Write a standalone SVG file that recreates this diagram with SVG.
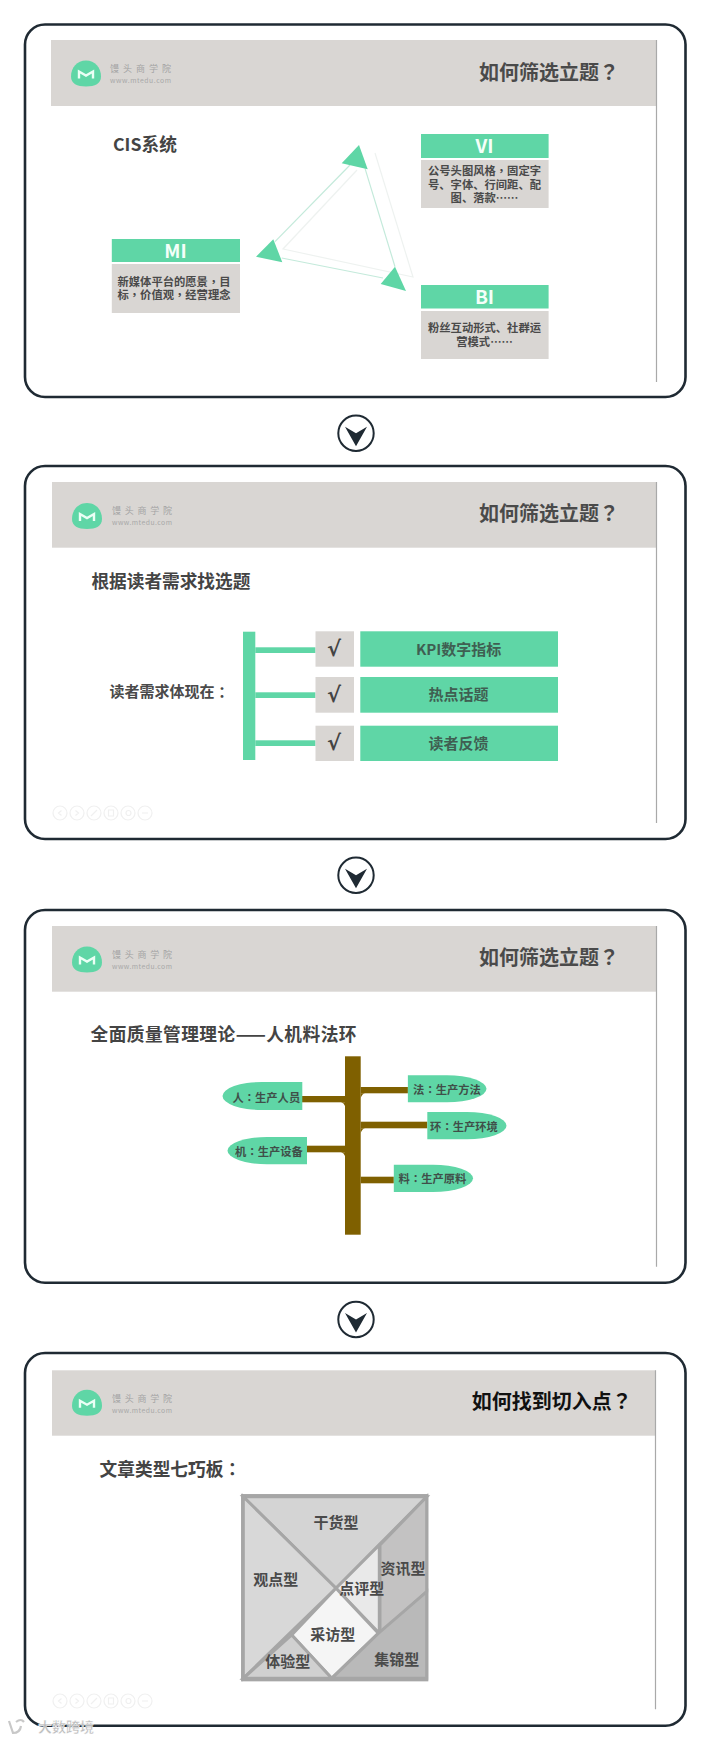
<svg xmlns="http://www.w3.org/2000/svg" width="710" height="1741" viewBox="0 0 710 1741">
<style>
text{font-family:"Noto Sans CJK SC","Liberation Sans",sans-serif;dominant-baseline:central}
tspan.p{font-family:"Noto Sans CJK TC","Noto Sans CJK SC",sans-serif}
.frame{fill:#fff;stroke:#1f2a33;stroke-width:2.6}
.hdr{fill:#d9d6d3}
.edge{stroke:#a9a9a9;stroke-width:1.2;fill:none}
.title{font-size:20px;font-weight:700;fill:#4a4a4a}
.head{font-size:17.7px;font-weight:700;fill:#444}
.brand{font-size:9px;fill:#a3a3a3}
.url{font-size:6.8px;fill:#a8a8a8}
.g{fill:#5fd6a6}
.b{fill:#d9d6d3}
.cap{font-size:19px;font-weight:700;fill:#f4fff9;text-anchor:middle}
.body{font-size:11.3px;font-weight:700;fill:#4a4a4a;text-anchor:middle}
.row{font-size:15px;font-weight:700;fill:#3f5f52;text-anchor:middle}
.chk{font-family:"DejaVu Sans",sans-serif;font-size:21px;font-weight:700;fill:#444;text-anchor:middle}
.lbl{font-size:11.3px;font-weight:700;fill:#3f4f49;text-anchor:middle}
.br{fill:#7f6000}
.tan{stroke:#a6a6a6;stroke-width:3;stroke-linejoin:miter}
.tl{font-size:15px;font-weight:700;fill:#4a4a4a;text-anchor:middle}
.ic{fill:none;stroke:#f0f0f0;stroke-width:1.2}
</style>
<defs>
<g id="logo">
<path class="g" d="M0-13C9-13 15-6 15 3C15 10 9 13 0 13C-9 13-15 10-15 3C-15-6-9-13 0-13Z"/>
<path d="M-7 5V-2L0 2L7-2V5" fill="none" stroke="#eafff5" stroke-width="2.4"/>
</g>
<g id="arrow">
<circle r="17.7" fill="#fff" stroke="#1f2a33" stroke-width="2"/>
<path d="M-11-6.5L0 0L11-6.5L0 13Z" fill="#1f2a33"/>
</g>
<g id="tools">
<g class="ic">
<circle cx="0" r="7"/><circle cx="17" r="7"/><circle cx="34" r="7"/><circle cx="51" r="7"/><circle cx="68" r="7"/><circle cx="85" r="7"/>
<path d="M1.500-2.500L-1.500 0L1.500 2.500M15.500-2.500L18.500 0L15.500 2.500M31 3L37-3M48.500-3H53.500V3H48.500ZM66 0A2.500 2.500 0 1 0 71 0A2.500 2.500 0 1 0 66 0M82 0H88"/>
</g>
</g>
</defs>
<rect width="710" height="1741" fill="#fff"/>

<g id="panel-1">
<rect class="frame" x="25" y="24.500" width="660.500" height="372.500" rx="20"/>
<rect class="hdr" x="51" y="40" width="605.500" height="66"/>
<path class="edge" d="M656.500 40V382"/>
<use href="#logo" x="86" y="73.500"/>
<text class="brand" x="110" y="68.500" textLength="61">馒头商学院</text>
<text class="url" x="110" y="80" textLength="61">www.mtedu.com</text>
<text class="title" x="479" y="71">如何筛选立题<tspan class="p">？</tspan></text>
<text class="head" x="113" y="143">CIS系统</text>
</g>
<g id="panel-2">
<rect class="frame" x="25" y="466" width="660.500" height="373" rx="20"/>
<rect class="hdr" x="52" y="482" width="604.500" height="65.700"/>
<path class="edge" d="M656.500 482V823"/>
<use href="#logo" x="87" y="516"/>
<text class="brand" x="112" y="510.500" textLength="60">馒头商学院</text>
<text class="url" x="112" y="522" textLength="60">www.mtedu.com</text>
<text class="title" x="479" y="512">如何筛选立题<tspan class="p">？</tspan></text>
<text class="head" x="91.400" y="579.500" textLength="159">根据读者需求找选题</text>
<text x="109.500" y="690.500" font-size="15" font-weight="700" fill="#4a4a4a">读者需求体现在<tspan class="p">：</tspan></text>
<use href="#tools" x="60" y="813"/>
</g>
<g id="panel-3">
<rect class="frame" x="25" y="910" width="660.500" height="372.700" rx="20"/>
<rect class="hdr" x="52" y="926" width="604.500" height="65.700"/>
<path class="edge" d="M656.500 926V1266.700"/>
<use href="#logo" x="87" y="959.500"/>
<text class="brand" x="112" y="954.500" textLength="60">馒头商学院</text>
<text class="url" x="112" y="966" textLength="60">www.mtedu.com</text>
<text class="title" x="479" y="956">如何筛选立题<tspan class="p">？</tspan></text>
<text class="head" x="90.500" y="1033" textLength="266">全面质量管理理论——人机料法环</text>
</g>
<g id="panel-4">
<rect class="frame" x="25" y="1353" width="660.500" height="372.700" rx="20"/>
<rect class="hdr" x="52" y="1370.300" width="603.500" height="65.400"/>
<path class="edge" d="M655.500 1370.300V1709.300"/>
<use href="#logo" x="87" y="1402.700"/>
<text class="brand" x="112" y="1398" textLength="60">馒头商学院</text>
<text class="url" x="112" y="1409.500" textLength="60">www.mtedu.com</text>
<text class="title" x="471.700" y="1400.300" style="fill:#111">如何找到切入点<tspan class="p">？</tspan></text>
<text class="head" x="99.600" y="1467.500">文章类型七巧板<tspan class="p">：</tspan></text>
<use href="#tools" x="60" y="1701"/>
</g>

<g id="connectors">
<g fill="none" stroke="#eef2f0" stroke-width="1.2">
<path d="M375 153L413 277L283 249L357 170"/>
</g>
<g fill="none" stroke="#c4eadb" stroke-width="1.2">
<path d="M350 165L275 241.700M365 168.300L395 266.700M281.700 258L383 278"/>
</g>
<g class="g">
<path d="M359 145L341.700 163.300L367.700 169.300Z"/>
<path d="M273.300 239.300L256 256.700L282.300 262.300Z"/>
<path d="M395 266.700L380.700 284L406 291Z"/>
</g>
<g class="g">
<rect x="243" y="631.700" width="12.300" height="128.300"/>
<rect x="255.300" y="647.300" width="60.200" height="5.700"/>
<rect x="255.300" y="692.300" width="60.200" height="5.700"/>
<rect x="255.300" y="740.300" width="60.200" height="5.700"/>
</g>
<g class="br">
<rect x="345" y="1056.300" width="15.700" height="178.400"/>
<rect x="302" y="1096" width="43" height="6.300"/>
<rect x="307" y="1145.700" width="38" height="6.600"/>
<rect x="360.700" y="1087" width="47.200" height="6.300"/>
<rect x="360.700" y="1121.700" width="66.600" height="6.600"/>
<rect x="360.700" y="1176.700" width="33.100" height="6.600"/>
<path d="M360.700 1093.300H365Q362 1094 360.700 1098ZM360.700 1128.300H365Q362 1129 360.700 1133ZM345 1102.300H341Q344 1103 345 1106ZM345 1152.300H341Q344 1153 345 1156Z"/>
</g>
</g>

<g id="node-vi">
<rect class="g" x="421" y="134" width="127.600" height="24"/>
<rect class="b" x="421" y="160" width="127.600" height="48"/>
<text class="cap" x="484.500" y="144.500">VI</text>
<text class="body" x="484.500" y="170.300">公号头图风格<tspan class="p">，</tspan>固定字</text>
<text class="body" x="484.500" y="183.700">号、字体、行间距、配</text>
<text class="body" x="484.500" y="197.300">图、落款……</text>
</g>
<g id="node-mi">
<rect class="g" x="111.800" y="239" width="128.200" height="23"/>
<rect class="b" x="111.800" y="264" width="128.200" height="49"/>
<text class="cap" x="175.500" y="249">MI</text>
<text class="body" x="174" y="280.700">新媒体平台的愿景<tspan class="p">，</tspan>目</text>
<text class="body" x="174" y="294">标<tspan class="p">，</tspan>价值观<tspan class="p">，</tspan>经营理念</text>
</g>
<g id="node-bi">
<rect class="g" x="421" y="285" width="127.600" height="23.500"/>
<rect class="b" x="421" y="311" width="127.600" height="48"/>
<text class="cap" x="484.500" y="295.500">BI</text>
<text class="body" x="484.500" y="327">粉丝互动形式、社群运</text>
<text class="body" x="484.500" y="340.700">营模式……</text>
</g>
<g id="arrow-1"><use href="#arrow" x="356" y="433.300"/></g>

<g id="node-kpi">
<rect class="b" x="315.500" y="631.300" width="38.500" height="35.400"/>
<text class="chk" x="334" y="649">√</text>
<rect class="g" x="360.300" y="631.300" width="197.700" height="35.400"/>
<text class="row" x="458.600" y="648">KPI数字指标</text>
</g>
<g id="node-hot">
<rect class="b" x="315.500" y="677" width="38.500" height="35.700"/>
<text class="chk" x="334" y="694.500">√</text>
<rect class="g" x="360.300" y="677" width="197.700" height="35.700"/>
<text class="row" x="458.600" y="693.500">热点话题</text>
</g>
<g id="node-feedback">
<rect class="b" x="315.500" y="725.700" width="38.500" height="35.300"/>
<text class="chk" x="334" y="743">√</text>
<rect class="g" x="360.300" y="725.700" width="197.700" height="35.300"/>
<text class="row" x="458.600" y="742">读者反馈</text>
</g>
<g id="arrow-2"><use href="#arrow" x="356" y="875.300"/></g>

<g id="node-ren">
<path class="g" d="M302.300 1082H262A39.500 14 0 0 0 262 1110H302.300Z"/>
<text class="lbl" x="266.300" y="1097">人<tspan class="p">：</tspan>生产人员</text>
</g>
<g id="node-ji">
<path class="g" d="M307 1137H267A39.500 13.650 0 0 0 267 1164.300H307Z"/>
<text class="lbl" x="269" y="1151">机<tspan class="p">：</tspan>生产设备</text>
</g>
<g id="node-fa">
<path class="g" d="M407.900 1075.300H447A39.500 13.500 0 0 1 447 1102.300H407.900Z"/>
<text class="lbl" x="447" y="1089">法<tspan class="p">：</tspan>生产方法</text>
</g>
<g id="node-huan">
<path class="g" d="M427.300 1112H467A39.500 13.650 0 0 1 467 1139.300H427.300Z"/>
<text class="lbl" x="464" y="1125.500">环<tspan class="p">：</tspan>生产环境</text>
</g>
<g id="node-liao">
<path class="g" d="M393.800 1164.700H433A40 13.650 0 0 1 433 1192H393.800Z"/>
<text class="lbl" x="432.500" y="1178">料<tspan class="p">：</tspan>生产原料</text>
</g>
<g id="arrow-3"><use href="#arrow" x="356" y="1319.500"/></g>

<g id="tangram">
<rect x="242.700" y="1495.700" width="184" height="184" fill="#d8d8d8" stroke="#a6a6a6" stroke-width="3.300"/>
<g id="piece-ganhuo"><path class="tan" fill="#d4d4d4" d="M243.300 1496.700H426.700L336 1588.300Z"/>
<text class="tl" x="336" y="1521.500">干货型</text></g>
<g id="piece-guandian"><path class="tan" fill="#d8d8d8" d="M243.300 1496.700L336 1588.300L243.300 1678.300Z"/>
<text class="tl" x="275.700" y="1578.500">观点型</text></g>
<g id="piece-zixun"><path class="tan" fill="#c3c2c2" d="M426.700 1496.700V1591.700L380 1633.300V1545Z"/></g>
<g id="piece-dianping"><path class="tan" fill="#e9e9e9" d="M379.300 1545L336 1588.300L379.300 1633.300Z"/></g>
<g id="piece-caifang"><path class="tan" fill="#f5f5f5" d="M336 1588.300L378.300 1633.300L331.700 1678.300L291.700 1635Z"/></g>
<g id="piece-tiyan"><path class="tan" fill="#d0d0d0" d="M291.700 1635L331.700 1678.300H243.300Z"/></g>
<g id="piece-jijin"><path class="tan" fill="#b9b9b9" d="M426.700 1591.700V1678.300H331.700L378.300 1633.300Z"/></g>
<text class="tl" x="403" y="1567.800">资讯型</text>
<text class="tl" x="361.700" y="1587.500">点评型</text>
<text class="tl" x="332.700" y="1633.500">采访型</text>
<text class="tl" x="287.700" y="1660.200">体验型</text>
<text class="tl" x="396.700" y="1658.500">集锦型</text>
</g>

<g id="watermark">
<path d="M9 1721L13 1733Q20 1733 21 1726M16 1722Q21 1718 24 1722" fill="none" stroke="#c8c8c8" stroke-width="2.200"/>
<text x="38" y="1726" font-size="14" font-weight="700" fill="#bbb" stroke="#fff" stroke-width="0.400">大数跨境</text>
</g>
</svg>
